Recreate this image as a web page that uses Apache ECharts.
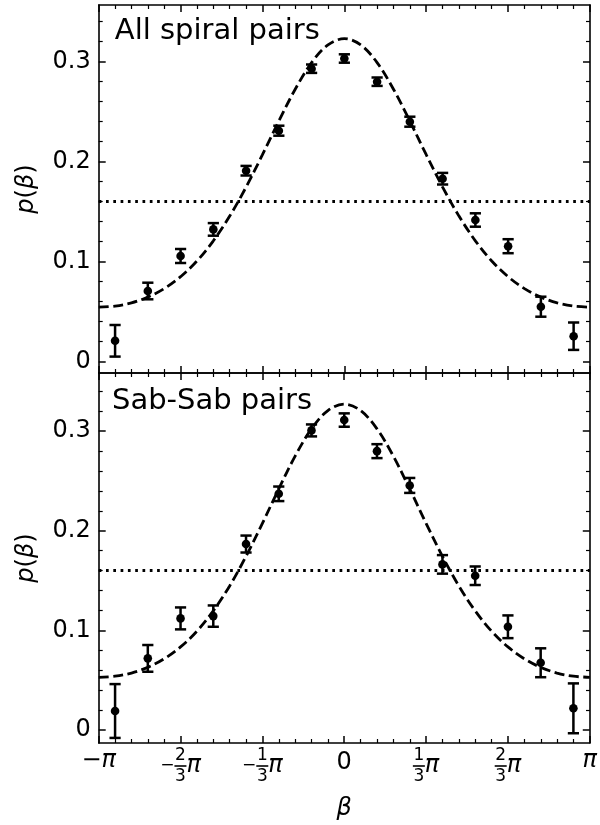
<!DOCTYPE html>
<html>
<head>
<meta charset="utf-8">
<script src="https://cdn.jsdelivr.net/npm/echarts@6/dist/echarts.min.js"></script>
<style>
  html, body { margin: 0; padding: 0; background: #fff; }
  #chart { width: 600px; height: 825px; }
</style>
</head>
<body>
<div id="chart"></div>
<script>
const PI = Math.PI;

// Centres of the 15 angular bins, in units of pi
const binCentres = [-14/15, -12/15, -10/15, -8/15, -6/15, -4/15, -2/15, 0,
                    2/15, 4/15, 6/15, 8/15, 10/15, 12/15, 14/15];

// Measured p(beta) and 1-sigma uncertainties, all spiral pairs
const allPairsP   = [0.0209, 0.0707, 0.1057, 0.1323, 0.1910, 0.2310, 0.2930, 0.3032,
                     0.2800, 0.2400, 0.1830, 0.1417, 0.1155, 0.0550, 0.0255];
const allPairsErr = [0.0158, 0.0083, 0.0070, 0.0063, 0.0048, 0.0050, 0.0042, 0.0042,
                     0.0042, 0.0050, 0.0058, 0.0067, 0.0070, 0.0100, 0.0137];

// Measured p(beta) and 1-sigma uncertainties, Sab-Sab pairs
const sabPairsP   = [0.0191, 0.0719, 0.1120, 0.1143, 0.1866, 0.2370, 0.3006, 0.3110,
                     0.2798, 0.2454, 0.1662, 0.1548, 0.1036, 0.0675, 0.0218];
const sabPairsErr = [0.0270, 0.0134, 0.0110, 0.0107, 0.0085, 0.0073, 0.0060, 0.0067,
                     0.0070, 0.0075, 0.0093, 0.0093, 0.0114, 0.0145, 0.0250];

// Fitted model, sampled every pi/15 from -pi to pi
const fitBetaOverPi = [-15/15, -14/15, -13/15, -12/15, -11/15, -10/15, -9/15, -8/15,
                       -7/15, -6/15, -5/15, -4/15, -3/15, -2/15, -1/15, 0,
                       1/15, 2/15, 3/15, 4/15, 5/15, 6/15, 7/15, 8/15,
                       9/15, 10/15, 11/15, 12/15, 13/15, 14/15, 15/15];
const allPairsFit = [0.0545, 0.0556, 0.0588, 0.0646, 0.0731, 0.0850, 0.1007, 0.1209,
                     0.1456, 0.1746, 0.2070, 0.2406, 0.2725, 0.2991, 0.3168, 0.3230,
                     0.3168, 0.2991, 0.2725, 0.2406, 0.2070, 0.1746, 0.1456, 0.1209,
                     0.1007, 0.0850, 0.0731, 0.0646, 0.0588, 0.0556, 0.0545];
const sabPairsFit = [0.0529, 0.0540, 0.0572, 0.0629, 0.0715, 0.0834, 0.0992, 0.1196,
                     0.1446, 0.1743, 0.2074, 0.2419, 0.2748, 0.3022, 0.3205, 0.3270,
                     0.3205, 0.3022, 0.2748, 0.2419, 0.2074, 0.1743, 0.1446, 0.1196,
                     0.0992, 0.0834, 0.0715, 0.0629, 0.0572, 0.0540, 0.0529];

// Isotropic (uniform) level 1/(2 pi)
const uniformLevel = 0.159;

const panelTitles = ['All spiral pairs', 'Sab-Sab pairs'];
const yTickValues = [0, 0.1, 0.2, 0.3];
const yMinorValues = [0.02, 0.04, 0.06, 0.08, 0.12, 0.14, 0.16, 0.18,
                      0.22, 0.24, 0.26, 0.28, 0.32, 0.34];
const xTickThirds = [-3, -2, -1, 0, 1, 2, 3];
const xMinorFifteenths = [-14, -13, -12, -11, -9, -8, -7, -6, -4, -3, -2, -1,
                          1, 2, 3, 4, 6, 7, 8, 9, 11, 12, 13, 14];

const FONT = 'DejaVu Sans';
const xMajor = xTickThirds.map(k => k * PI / 3);
const xMinor = xMinorFifteenths.map(k => k * PI / 15);

const gridRects = [
  { left: 98.7, top: 5, width: 491.3, height: 368 },
  { left: 98.7, top: 373, width: 491.3, height: 370 }
];
const yRanges = [[-0.0113, 0.3567], [-0.0130, 0.3582]];

const xLabelRich = {
  z:  { fontSize: 24, fontFamily: FONT, color: '#000', lineHeight: 30 },
  mb: { fontSize: 24, fontFamily: FONT, color: '#000', lineHeight: 26 },
  pb: { fontSize: 24, fontFamily: FONT, color: '#000', lineHeight: 26, fontStyle: 'italic' },
  m:  { fontSize: 17, fontFamily: FONT, color: '#000', lineHeight: 1 },
  p:  { fontSize: 24, fontFamily: FONT, color: '#000', lineHeight: 1, fontStyle: 'italic' },
  hm: { fontSize: 17, fontFamily: FONT, color: 'rgba(0,0,0,0)', lineHeight: 1 },
  hp: { fontSize: 24, fontFamily: FONT, color: 'rgba(0,0,0,0)', lineHeight: 1, fontStyle: 'italic' },
  num: { fontSize: 17, fontFamily: FONT, color: '#000', lineHeight: 17, width: 12, align: 'center' },
  den: { fontSize: 17, fontFamily: FONT, color: '#000', lineHeight: 19, width: 12, align: 'center' },
  bar: { fontSize: 1, width: 12, height: 1.6, lineHeight: 3, backgroundColor: '#000' }
};

// Tick labels in multiples of pi, with stacked fractions
function piLabel(v) {
  const k = Math.round(v / (PI / 3));
  if (k === 0) return '{z|0}';
  if (k === 3) return '{pb|π}';
  if (k === -3) return '{mb|−}{pb|π}';
  const lead = k < 0 ? '{hm|−}' : '';
  const leadM = k < 0 ? '{m|−}' : '';
  return lead + '{num|' + Math.abs(k) + '}{hp|π}\n' +
         leadM + '{bar| }{p|π}\n' +
         lead + '{den|3}{hp|π}';
}

function xAxisDef(grid, position, major, labels) {
  const ax = {
    type: 'value', gridIndex: grid, position: position, min: -PI, max: PI,
    axisLine: { show: major, onZero: false, lineStyle: { color: '#000', width: 1.6 } },
    axisTick: {
      show: true, inside: true, length: major ? 7 : 4,
      customValues: major ? xMajor : xMinor,
      lineStyle: { color: '#000', width: major ? 1.5 : 1.2 }
    },
    axisLabel: { show: false },
    splitLine: { show: false }
  };
  if (labels) {
    ax.axisLabel = {
      show: true, customValues: xMajor, margin: 4.5, color: '#000',
      fontFamily: FONT, fontSize: 24, formatter: piLabel, rich: xLabelRich
    };
    ax.name = 'β';
    ax.nameLocation = 'middle';
    ax.nameGap = 54;
    ax.nameTextStyle = { fontFamily: FONT, fontSize: 24, fontStyle: 'italic', color: '#000' };
  }
  return ax;
}

function yAxisDef(grid, position, major, labels, range) {
  const ax = {
    type: 'value', gridIndex: grid, position: position, min: range[0], max: range[1],
    axisLine: { show: major, onZero: false, lineStyle: { color: '#000', width: 1.6 } },
    axisTick: {
      show: true, inside: true, length: major ? 7 : 4,
      customValues: major ? yTickValues : yMinorValues,
      lineStyle: { color: '#000', width: major ? 1.5 : 1.2 }
    },
    axisLabel: { show: false },
    splitLine: { show: false }
  };
  if (labels) {
    ax.axisLabel = {
      show: true, customValues: yTickValues, margin: 8, color: '#000',
      fontFamily: FONT, fontSize: 24,
      formatter: v => (Math.abs(v) < 1e-9 ? '0' : v.toFixed(1))
    };
    ax.name = '{i|p}({i|β})';
    ax.nameLocation = 'middle';
    ax.nameGap = 60;
    ax.nameRotate = 90;
    ax.nameTextStyle = {
      fontFamily: FONT, fontSize: 24, color: '#000',
      rich: { i: { fontFamily: FONT, fontSize: 24, fontStyle: 'italic', color: '#000' } }
    };
  }
  return ax;
}

// Vertical error bar with caps, placed through the axis scales
function errorBars(params, api) {
  const x = api.value(0), y = api.value(1), e = api.value(2);
  const hi = api.coord([x, y + e]);
  const lo = api.coord([x, y - e]);
  const hw = 5.6;
  const st = { stroke: '#000', lineWidth: 2.5 };
  return {
    type: 'group',
    children: [
      { type: 'line', shape: { x1: hi[0], y1: hi[1], x2: lo[0], y2: lo[1] }, style: st },
      { type: 'line', shape: { x1: hi[0] - hw, y1: hi[1], x2: hi[0] + hw, y2: hi[1] }, style: st },
      { type: 'line', shape: { x1: lo[0] - hw, y1: lo[1], x2: lo[0] + hw, y2: lo[1] }, style: st }
    ]
  };
}

function panelSeries(xi, yi, vals, errs, fit) {
  return [
    {
      type: 'line', xAxisIndex: xi, yAxisIndex: yi, showSymbol: false, smooth: 0.35,
      data: fitBetaOverPi.map((b, i) => [b * PI, fit[i]]),
      lineStyle: { color: '#000', width: 2.8, type: [10, 4.5] },
      markLine: {
        silent: true, symbol: ['none', 'none'], label: { show: false },
        lineStyle: { color: '#000', width: 2.8, type: [2.7, 4.6] },
        data: [{ yAxis: uniformLevel }]
      },
      z: 2
    },
    {
      type: 'custom', xAxisIndex: xi, yAxisIndex: yi, renderItem: errorBars,
      encode: { x: 0, y: 1 },
      data: binCentres.map((b, i) => [b * PI, vals[i], errs[i]]),
      z: 3
    },
    {
      type: 'scatter', xAxisIndex: xi, yAxisIndex: yi, symbol: 'circle', symbolSize: 8.6,
      itemStyle: { color: '#000', opacity: 1 },
      data: binCentres.map((b, i) => [b * PI, vals[i]]),
      z: 4
    }
  ];
}

const option = {
  animation: false,
  backgroundColor: '#fff',
  grid: [gridRects[0], gridRects[1], gridRects[0], gridRects[1]],
  xAxis: [
    xAxisDef(0, 'bottom', true, false),
    xAxisDef(0, 'top', true, false),
    xAxisDef(1, 'bottom', true, true),
    xAxisDef(1, 'top', true, false),
    xAxisDef(2, 'bottom', false, false),
    xAxisDef(2, 'top', false, false),
    xAxisDef(3, 'bottom', false, false),
    xAxisDef(3, 'top', false, false)
  ],
  yAxis: [
    yAxisDef(0, 'left', true, true, yRanges[0]),
    yAxisDef(0, 'right', true, false, yRanges[0]),
    yAxisDef(1, 'left', true, true, yRanges[1]),
    yAxisDef(1, 'right', true, false, yRanges[1]),
    yAxisDef(2, 'left', false, false, yRanges[0]),
    yAxisDef(2, 'right', false, false, yRanges[0]),
    yAxisDef(3, 'left', false, false, yRanges[1]),
    yAxisDef(3, 'right', false, false, yRanges[1])
  ],
  graphic: [
    { type: 'text', x: 114.8, y: 31.7, z: 10,
      style: { text: panelTitles[0], fontSize: 29, fontFamily: FONT, fill: '#000', verticalAlign: 'middle' } },
    { type: 'text', x: 112, y: 401.7, z: 10,
      style: { text: panelTitles[1], fontSize: 29, fontFamily: FONT, fill: '#000', verticalAlign: 'middle' } }
  ],
  series: [
    ...panelSeries(0, 0, allPairsP, allPairsErr, allPairsFit),
    ...panelSeries(2, 2, sabPairsP, sabPairsErr, sabPairsFit)
  ]
};

const chart = echarts.init(document.getElementById('chart'), null, { renderer: 'canvas' });
chart.setOption(option);
</script>
</body>
</html>
